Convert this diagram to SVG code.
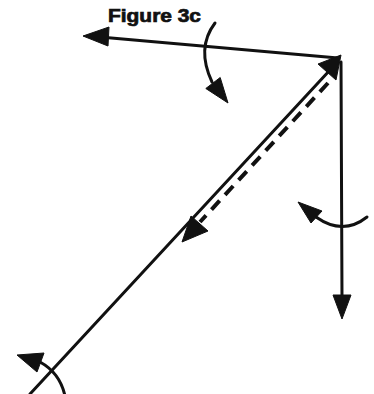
<svg xmlns="http://www.w3.org/2000/svg" width="374" height="394" viewBox="0 0 374 394">
<style>
.ln{stroke:#111;stroke-width:3;fill:none;stroke-linecap:round}
.dash{stroke:#111;stroke-width:4;fill:none;stroke-dasharray:12 8}
.hd{fill:#111;stroke:#111;stroke-width:1;stroke-linejoin:round}
.lbl{font-family:"Liberation Sans",Arial,sans-serif;font-weight:bold;font-size:18px;fill:#111;stroke:#111;stroke-width:0.7}
</style>
<rect width="374" height="394" fill="#fff"/>
<g id="title"><text class="lbl" x="108" y="22" textLength="93" lengthAdjust="spacingAndGlyphs">Figure 3c</text></g>
<g id="connectors">
<line class="ln" x1="338" y1="58" x2="100" y2="37"/>
<polygon class="hd" points="83,36 109,27 108,46"/>
<line class="ln" x1="341" y1="62" x2="342" y2="300"/>
<polygon class="hd" points="342,319 333,295 351,295"/>
<line class="ln" x1="330" y1="70" x2="30" y2="394"/>
<polygon class="hd" points="341,55 336,80 318,64"/>
<line class="dash" x1="328" y1="83" x2="200" y2="222"/>
<polygon class="hd" points="182,242 191,216 208,231"/>
<path class="ln" d="M215,23 Q196,48 212,82"/>
<polygon class="hd" points="228,103 205.8,88.5 220.2,77.5"/>
<path class="ln" d="M367,217 Q343,236 316,217"/>
<polygon class="hd" points="298,202 322,211 311,223"/>
<path class="ln" d="M65,396 Q60,373 40,362"/>
<polygon class="hd" points="17,355 44,353 37,372"/>
</g>
</svg>
